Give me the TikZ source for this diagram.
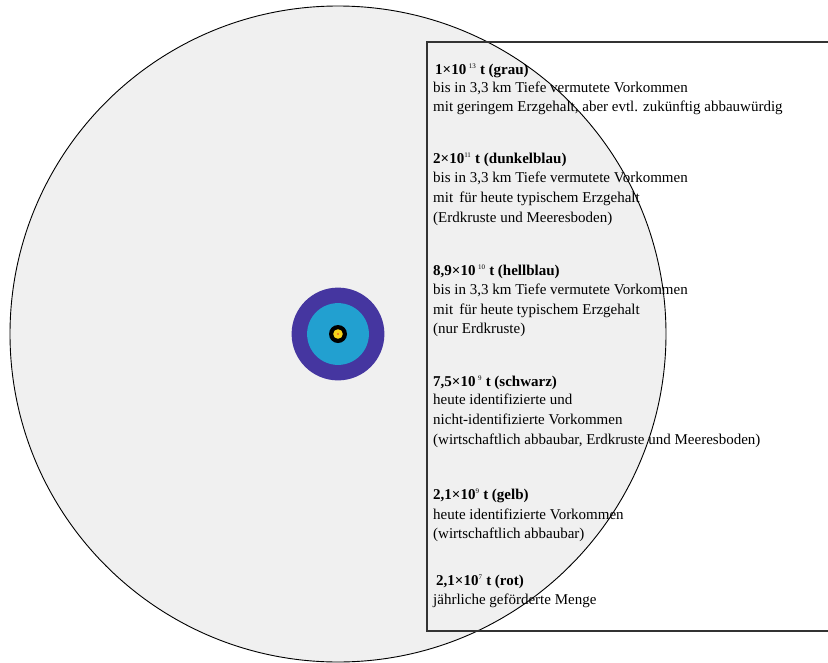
\documentclass[tikz,border=0pt]{standalone}
\usepackage{fontspec}
\setmainfont{Liberation Serif}
\definecolor{bggrey}{HTML}{F0F0F0}
\definecolor{dkblue}{HTML}{4536A0}
\definecolor{ltblue}{HTML}{22A0D0}
\definecolor{gold}{HTML}{F6D21A}
\definecolor{redc}{HTML}{E8332A}
\definecolor{framec}{HTML}{333333}
\newcommand{\ex}[1]{\textsuperscript{\normalfont\fontsize{7}{7}\selectfont #1}}
\begin{document}
\begin{tikzpicture}[x=1pt,y=-1pt,
  head/.style={anchor=base west,inner sep=0pt,font=\fontsize{15}{18}\selectfont\bfseries},
  body/.style={anchor=base west,inner sep=0pt,font=\fontsize{15}{18}\selectfont}]
\useasboundingbox (0,0) rectangle (828,662);
% total resources (area proportional to mass)
\fill[white] (427,42) rectangle (832,631);
\filldraw[fill=bggrey,draw=black,line width=0.9pt] (338,334) circle (328);
\draw[framec,line width=1.2pt] (832,42) -- (427,42) -- (427,631) -- (832,631);
% nested discs
\fill[dkblue] (338,334) circle (46.4);
\fill[ltblue] (338,334) circle (30.9);
\fill[black] (338,334) circle (9);
\fill[gold] (338,334) circle (4.8);
\fill[redc] (338,334) circle (0.9);
% legend
\node[head] (h1) at (435,74) {1×10\,\ex{13} t (grau)};
\node[body] (a1) at (433,92) {bis in 3,3 km Tiefe vermutete Vorkommen};
\node[body] (b1) at (433,111) {mit geringem Erzgehalt, aber evtl. zukünftig abbauwürdig};
\node[head] (h2) at (433,163) {2×10\ex{11} t (dunkelblau)};
\node[body] (a2) at (433,182) {bis in 3,3 km Tiefe vermutete Vorkommen};
\node[body] (b2) at (433,202) {mit\, für heute typischem Erzgehalt};
\node[body] (c2) at (433,222) {(Erdkruste und Meeresboden)};
\node[head] (h3) at (433,275) {8,9×10\,\ex{10} t (hellblau)};
\node[body] (a3) at (433,294) {bis in 3,3 km Tiefe vermutete Vorkommen};
\node[body] (b3) at (433,314) {mit\, für heute typischem Erzgehalt};
\node[body] (c3) at (433,333) {(nur Erdkruste)};
\node[head] (h4) at (433,386) {7,5×10\,\ex{9} t (schwarz)};
\node[body] (a4) at (433,404) {heute identifizierte und};
\node[body] (b4) at (433,424) {nicht-identifizierte Vorkommen};
\node[body] (c4) at (433,444) {(wirtschaftlich abbaubar, Erdkruste und Meeresboden)};
\node[head] (h5) at (433,499) {2,1×10\ex{9} t (gelb)};
\node[body] (a5) at (433,519) {heute identifizierte Vorkommen};
\node[body] (b5) at (433,538) {(wirtschaftlich abbaubar)};
\node[head] (h6) at (436,585) {2,1×10\ex{7} t (rot)};
\node[body] (a6) at (433,604) {jährliche geförderte Menge};
\end{tikzpicture}
\end{document}
